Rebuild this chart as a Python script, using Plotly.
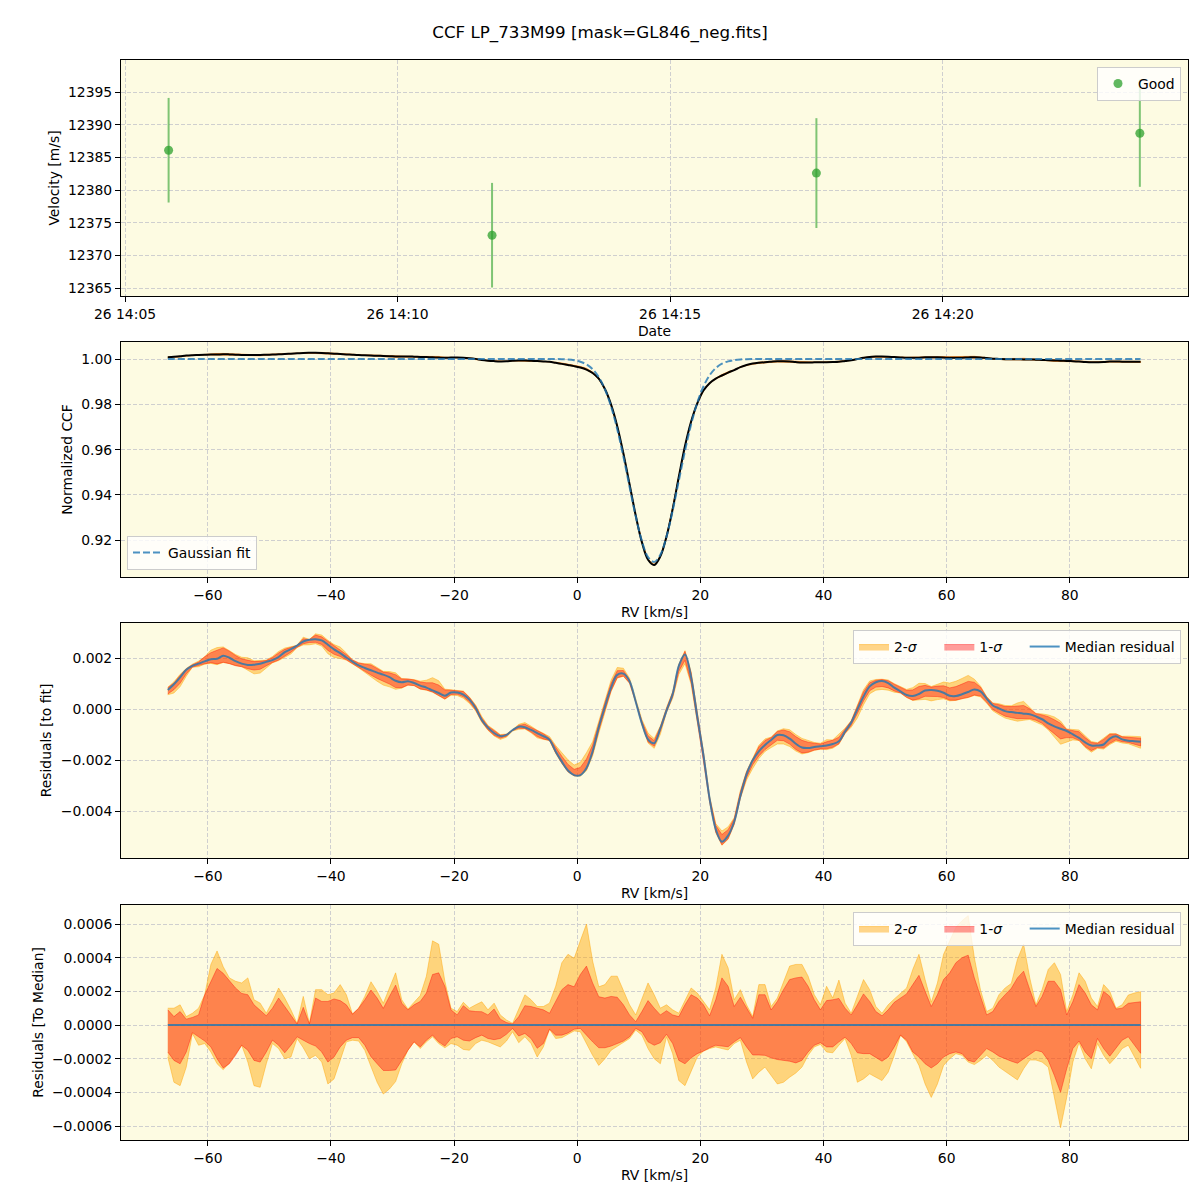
import numpy as np
import plotly.graph_objects as go

TITLE = "CCF LP_733M99 [mask=GL846_neg.fits]"

# ---------------- Panel 1: RV time series ----------------
obs_times = ["2020-10-26 14:05:48", "2020-10-26 14:11:44",
             "2020-10-26 14:17:41", "2020-10-26 14:23:37"]
obs_rv = [12386.1, 12373.1, 12382.6, 12388.7]
obs_err = [8.0, 8.0, 8.4, 8.2]

# ---------------- RV grid (km/s) ----------------
RV_START, RV_STEP, N_RV = -66.5, 1.0, 159
rv = RV_START + RV_STEP * np.arange(N_RV)

# Gaussian fit parameters
CONTINUUM = 1.0
GAUSS_CENTER = 12.4
GAUSS_DEPTH = 0.0896
GAUSS_SIGMA = 4.05

# Median residual to fit (units of 1e-3)
med_res = [
    0.76, 0.98, 1.25, 1.55, 1.70, 1.79, 1.88, 1.96, 1.98, 2.10,
    2.02, 1.89, 1.79, 1.74, 1.75, 1.79, 1.86, 1.93, 2.05, 2.24,
    2.36, 2.50, 2.66, 2.73, 2.75, 2.70, 2.53, 2.35, 2.20, 2.03,
    1.87, 1.72, 1.62, 1.53, 1.44, 1.36, 1.26, 1.12, 1.06, 1.10,
    1.03, 0.93, 0.85, 0.74, 0.64, 0.53, 0.66, 0.66, 0.58, 0.38,
    0.05, -0.42, -0.72, -0.93, -1.05, -1.00, -0.81, -0.68, -0.70, -0.81,
    -0.93, -1.05, -1.20, -1.65, -2.05, -2.40, -2.58, -2.58, -2.30, -1.65,
    -0.70, 0.10, 0.85, 1.35, 1.40, 1.10, 0.30, -0.55, -1.18, -1.33,
    -0.75, -0.05, 0.60, 1.70, 2.15, 1.25, -0.30, -1.80, -3.50, -4.70,
    -5.19, -4.95, -4.40, -3.40, -2.55, -2.00, -1.65, -1.40, -1.20, -1.01,
    -1.02, -1.15, -1.35, -1.50, -1.52, -1.48, -1.45, -1.42, -1.36, -1.25,
    -0.87, -0.52, 0.00, 0.50, 0.90, 1.06, 1.11, 1.03, 0.85, 0.70,
    0.56, 0.52, 0.60, 0.74, 0.76, 0.73, 0.65, 0.53, 0.52, 0.59,
    0.68, 0.78, 0.70, 0.42, 0.15, 0.04, -0.07, -0.11, -0.14, -0.17,
    -0.19, -0.28, -0.39, -0.55, -0.67, -0.76, -0.85, -0.98, -1.12, -1.30,
    -1.42, -1.42, -1.38, -1.15, -1.06, -1.18, -1.23, -1.25, -1.27,
]

# Spread around the median (units of 1e-4)
upper_2sig = [
    1.0, 1.0, 1.2, 0.5, 0.7, 1.0, 1.8, 3.6, 4.4, 3.46,
    2.8, 2.6, 2.5, 2.8, 1.5, 1.3, 0.7, 1.4, 2.2, 1.6,
    0.9, 0.1, 1.7, 0.1, 2.1, 2.1, 1.8, 1.9, 2.4, 1.8,
    0.65, 1.0, 1.7, 2.57, 2.0, 1.29, 2.2, 3.1, 1.5, 0.95,
    1.35, 1.75, 2.9, 5.0, 4.8, 2.6, 1.0, 0.8, 1.35, 1.0,
    1.2, 1.38, 0.9, 1.3, 0.6, 0.3, 0.1, 0.9, 1.8, 1.5,
    1.1, 1.1, 1.3, 2.3, 3.7, 4.2, 3.96, 5.0, 6.0, 3.8,
    2.27, 2.4, 2.9, 2.9, 2.1, 1.2, 0.6, 1.5, 2.5, 1.8,
    1.0, 1.2, 0.9, 0.7, 1.5, 2.2, 1.9, 1.4, 0.9, 2.2,
    4.2, 3.4, 1.5, 2.1, 1.2, 0.5, 2.4, 2.4, 1.1, 1.6,
    2.6, 3.5, 3.6, 3.6, 2.9, 1.8, 1.2, 2.3, 1.6, 2.67,
    1.3, 0.7, 1.7, 2.7, 2.1, 1.1, 0.7, 1.2, 1.55, 1.85,
    2.2, 3.3, 4.2, 2.7, 1.35, 2.5, 4.2, 5.0, 5.8, 6.2,
    6.5, 4.0, 2.08, 0.8, 1.0, 1.8, 2.2, 2.47, 3.9, 4.8,
    2.8, 1.2, 2.1, 3.3, 3.7, 3.0, 0.8, 1.8, 3.1, 2.6,
    1.6, 1.1, 2.4, 2.0, 1.0, 1.2, 1.78, 1.9, 1.98,
]
upper_1sig = [
    0.9, 0.5, 0.8, 0.35, 0.45, 0.6, 1.8, 2.6, 3.36, 3.07,
    2.6, 2.2, 1.88, 1.8, 1.2, 0.9, 0.55, 1.0, 1.6, 1.1,
    0.55, 0.06, 1.05, 0.06, 1.6, 1.4, 1.4, 1.55, 1.45, 1.2,
    0.65, 1.0, 1.5, 2.08, 1.6, 0.99, 1.7, 2.37, 1.3, 0.9,
    1.2, 1.4, 1.9, 3.0, 3.1, 2.3, 0.9, 0.6, 1.15, 0.85,
    0.8, 0.79, 0.6, 0.95, 0.35, 0.15, 0.06, 0.5, 1.15, 1.1,
    1.0, 0.9, 0.7, 1.4, 2.1, 2.4, 2.27, 3.0, 3.5, 2.5,
    1.68, 1.6, 1.7, 1.65, 1.2, 0.6, 0.2, 0.8, 1.45, 1.0,
    0.6, 0.85, 0.6, 0.5, 1.2, 1.8, 1.6, 1.2, 0.55, 1.5,
    2.8, 2.3, 1.1, 1.65, 1.0, 0.4, 1.8, 1.8, 0.9, 1.4,
    2.1, 2.7, 2.8, 2.85, 2.3, 1.5, 0.9, 1.45, 1.5, 1.58,
    1.0, 0.6, 1.2, 1.85, 1.4, 0.8, 0.55, 0.9, 1.35, 1.6,
    1.85, 2.4, 2.95, 2.0, 1.1, 1.8, 2.7, 3.1, 3.7, 4.0,
    4.15, 2.8, 1.68, 0.6, 0.8, 1.4, 1.8, 2.18, 2.8, 3.2,
    2.1, 1.1, 1.7, 2.6, 2.6, 2.1, 0.6, 1.4, 2.4, 1.9,
    1.2, 0.9, 2.0, 1.7, 0.95, 1.0, 1.29, 1.35, 1.38,
]
lower_1sig = [
    -1.6, -2.1, -2.3, -1.6, -0.45, -0.7, -0.95, -1.3, -2.0, -2.55,
    -2.3, -1.8, -1.2, -1.5, -2.1, -2.2, -1.6, -0.9, -1.2, -1.65,
    -1.2, -0.7, -0.9, -1.1, -1.25, -1.6, -2.2, -1.9, -1.3, -0.9,
    -0.75, -0.75, -1.2, -1.88, -2.3, -2.7, -2.7, -2.67, -2.1, -1.5,
    -1.0, -1.3, -0.9, -0.6, -1.0, -1.25, -0.8, -0.7, -0.9, -0.95,
    -0.75, -0.6, -0.8, -0.87, -0.8, -0.55, -0.2, -0.65, -0.5, -0.8,
    -1.38, -1.1, -0.25, -0.6, -0.6, -0.47, -0.25, -0.2, -0.6, -1.0,
    -1.35, -1.35, -1.25, -1.1, -0.95, -0.7, -0.2, -0.4, -1.0, -1.2,
    -1.05, -0.55, -1.1, -2.1, -2.3, -1.95, -1.7, -1.55, -1.35, -1.2,
    -1.25, -1.29, -1.0, -0.75, -1.3, -1.78, -1.78, -1.8, -1.95, -2.05,
    -2.1, -2.15, -2.25, -2.1, -1.6, -1.2, -1.05, -1.3, -1.3, -1.0,
    -0.72, -1.1, -1.65, -1.7, -1.7, -1.9, -2.15, -1.9, -1.3, -0.6,
    -0.9, -1.6, -1.9, -2.3, -2.55, -2.3, -1.9, -1.7, -1.6, -1.7,
    -2.1, -2.2, -1.8, -1.4, -1.6, -1.85, -2.0, -2.15, -2.27, -2.0,
    -1.75, -1.5, -1.6, -2.1, -3.0, -4.0, -2.6, -1.4, -0.95, -1.6,
    -2.0, -0.8, -1.4, -1.85, -1.4, -0.9, -0.7, -1.2, -1.68,
]
lower_2sig = [
    -1.9, -3.4, -3.6, -2.5, -0.5, -1.2, -1.1, -1.6, -2.3, -2.65,
    -2.25, -1.7, -1.2, -2.2, -3.6, -3.7, -2.3, -1.1, -1.4, -2.0,
    -1.9, -0.8, -1.35, -2.0, -1.8, -2.2, -3.5, -3.2, -2.08, -1.0,
    -0.9, -0.95, -1.5, -2.47, -3.4, -4.1, -3.8, -3.36, -2.3, -1.5,
    -1.0, -1.4, -1.0, -0.7, -1.1, -1.35, -1.1, -1.2, -1.45, -1.5,
    -1.1, -0.9, -1.0, -1.15, -1.3, -0.95, -0.4, -1.05, -0.7, -1.1,
    -1.9, -1.3, -0.25, -0.8, -0.75, -0.57, -0.35, -0.4, -1.1, -1.8,
    -2.4, -2.0, -1.5, -1.25, -1.05, -0.8, -0.3, -0.6, -1.4, -2.0,
    -2.3, -0.7, -1.7, -3.3, -3.6, -2.7, -1.9, -1.55, -1.4, -1.3,
    -1.4, -1.48, -1.1, -0.9, -2.2, -3.2, -2.8, -2.5, -3.0, -3.5,
    -3.4, -3.1, -2.85, -2.5, -1.8, -1.3, -1.15, -1.6, -1.65, -1.2,
    -0.8, -1.8, -3.4, -3.2, -2.9, -3.1, -3.3, -2.8, -1.8, -0.6,
    -1.0, -1.7, -2.4, -3.5, -4.3, -3.5, -2.4, -2.0, -1.7, -1.8,
    -2.2, -2.35, -2.1, -1.8, -2.1, -2.5, -2.75, -3.0, -3.26, -2.6,
    -2.08, -2.08, -2.2, -2.5, -4.2, -6.1, -4.3, -2.2, -1.05, -2.0,
    -2.6, -1.1, -1.8, -2.3, -1.9, -1.4, -1.2, -1.9, -2.57,
]

# ---------------- derived series ----------------
med = np.array(med_res) * 1e-3
u2 = np.array(upper_2sig) * 1e-4
u1 = np.array(upper_1sig) * 1e-4
l1 = np.array(lower_1sig) * 1e-4
l2 = np.array(lower_2sig) * 1e-4
gauss = CONTINUUM - GAUSS_DEPTH * np.exp(-0.5 * ((rv - GAUSS_CENTER) / GAUSS_SIGMA) ** 2)
ccf = gauss + med

# ---------------- styles ----------------
FONT = "DejaVu Sans"
BG = "#fdfbe2"
GRID = "#cfcfcf"
C_2SIG = "rgba(255,165,0,0.45)"
C_1SIG = "rgba(255,0,0,0.38)"
C_MED = "rgba(31,119,180,0.8)"
TICKF = 13.9
PAD = "\u00a0" * 4  # spacing between horizontal legend entries

fig = go.Figure()

def band(xv, lo, hi, color, name, xa, ya, leg, show=True):
    xs = list(xv) + list(xv[::-1])
    ys = list(hi) + list(lo[::-1])
    fig.add_trace(go.Scatter(
        x=xs, y=ys, fill="toself", fillcolor=color, mode="lines",
        line=dict(color=color, width=1), name=name, showlegend=show,
        xaxis=xa, yaxis=ya, legend=leg, hoverinfo="skip"))

# Panel 1
fig.add_trace(go.Scatter(
    x=obs_times, y=obs_rv, mode="markers", name="Good", showlegend=True,
    marker=dict(color="rgba(44,160,44,0.75)", size=9),
    error_y=dict(type="data", array=obs_err, color="rgba(44,160,44,0.6)",
                 thickness=2, width=0),
    xaxis="x", yaxis="y", legend="legend"))

# Panel 2
band(rv, ccf + l2, ccf + u2, "rgba(255,127,14,0.7)", "ccf band", "x2", "y2", "legend2", show=False)
fig.add_trace(go.Scatter(x=rv, y=ccf, mode="lines", line=dict(color="black", width=2, shape="spline"),
                         name="Median CCF", showlegend=False, xaxis="x2", yaxis="y2", legend="legend2"))
fig.add_trace(go.Scatter(x=rv, y=gauss, mode="lines",
                         line=dict(color=C_MED, width=2, dash="7px,3px", shape="spline"),
                         name="Gaussian fit", showlegend=True, xaxis="x2", yaxis="y2", legend="legend2"))

# Panel 3
band(rv, med + l2, med + u2, C_2SIG, "2-<i>σ</i>" + PAD, "x3", "y3", "legend3")
band(rv, med + l1, med + u1, C_1SIG, "1-<i>σ</i>" + PAD, "x3", "y3", "legend3")
fig.add_trace(go.Scatter(x=rv, y=med, mode="lines", line=dict(color=C_MED, width=2, shape="spline"),
                         name="Median residual", xaxis="x3", yaxis="y3", legend="legend3"))

# Panel 4
zero = med - med
band(rv, zero + l2, zero + u2, C_2SIG, "2-<i>σ</i>" + PAD, "x4", "y4", "legend4")
band(rv, zero + l1, zero + u1, C_1SIG, "1-<i>σ</i>" + PAD, "x4", "y4", "legend4")
fig.add_trace(go.Scatter(x=rv, y=zero, mode="lines", line=dict(color=C_MED, width=2),
                         name="Median residual", xaxis="x4", yaxis="y4", legend="legend4"))

XDOM = [121 / 1200, 1188 / 1200]

def ydom(top, bottom):
    return [1 - bottom / 1200, 1 - top / 1200]

common = dict(showline=True, mirror=True, linecolor="black", linewidth=1,
              ticks="outside", ticklen=5, tickcolor="black", tickwidth=1,
              showgrid=True, gridcolor=GRID, griddash="4px,2px", gridwidth=1,
              zeroline=False, automargin=False,
              tickfont=dict(family=FONT, size=TICKF, color="black"))

def title(t):
    return dict(text=t, font=dict(family=FONT, size=TICKF, color="black"), standoff=5)

RV_RANGE = [-74.1, 99.2]

layout = dict(
    width=1200, height=1200, autosize=False, showlegend=True,
    margin=dict(l=0, r=0, t=0, b=0),
    paper_bgcolor="white", plot_bgcolor=BG,
    font=dict(family=FONT, size=TICKF, color="black"),
    title=dict(text=TITLE, x=0.5, xanchor="center", y=1 - 32 / 1200, yanchor="middle",
               font=dict(family=FONT, size=16.7, color="black")),
    xaxis=dict(domain=XDOM, anchor="y", type="date",
               range=["2020-10-26 14:04:55.6", "2020-10-26 14:24:30"],
               tick0="2020-10-26 14:05:00", dtick=300000, tickformat="%d %H:%M",
               title=title("Date"), **common),
    yaxis=dict(domain=ydom(60, 296), anchor="x", range=[12363.8, 12399.9],
               tick0=12365, dtick=5, tickformat="d", title=title("Velocity [m/s]"), **common),
    xaxis2=dict(domain=XDOM, anchor="y2", range=RV_RANGE, tick0=0, dtick=20,
                title=title("RV [km/s]"), **common),
    yaxis2=dict(domain=ydom(342, 577), anchor="x2", range=[0.9038, 1.0075],
                tick0=0.92, dtick=0.02, tickformat=".2f", title=title("Normalized CCF"), **common),
    xaxis3=dict(domain=XDOM, anchor="y3", range=RV_RANGE, tick0=0, dtick=20,
                title=title("RV [km/s]"), **common),
    yaxis3=dict(domain=ydom(623, 858), anchor="x3", range=[-0.00583, 0.003384],
                tick0=0, dtick=0.002, tickformat=".3f", title=title("Residuals [to fit]"), **common),
    xaxis4=dict(domain=XDOM, anchor="y4", range=RV_RANGE, tick0=0, dtick=20,
                title=title("RV [km/s]"), **common),
    yaxis4=dict(domain=ydom(905, 1140), anchor="x4", range=[-0.000683, 0.000713],
                tick0=0, dtick=0.0002, tickformat=".4f", title=title("Residuals [To Median]"), **common),
)

leg_common = dict(bgcolor="rgba(255,255,255,0.8)", bordercolor="#cccccc", borderwidth=1,
                  font=dict(family=FONT, size=TICKF, color="black"))
layout["legend"] = dict(x=1181 / 1200, y=1 - 67 / 1200, xanchor="right", yanchor="top", **leg_common)
layout["legend2"] = dict(x=127 / 1200, y=1 - 570 / 1200, xanchor="left", yanchor="bottom", **leg_common)
layout["legend3"] = dict(x=1181 / 1200, y=1 - 630 / 1200, xanchor="right", yanchor="top",
                         orientation="h", **leg_common)
layout["legend4"] = dict(x=1181 / 1200, y=1 - 912 / 1200, xanchor="right", yanchor="top",
                         orientation="h", **leg_common)

fig.update_layout(**layout)
fig.write_html("out.html")
